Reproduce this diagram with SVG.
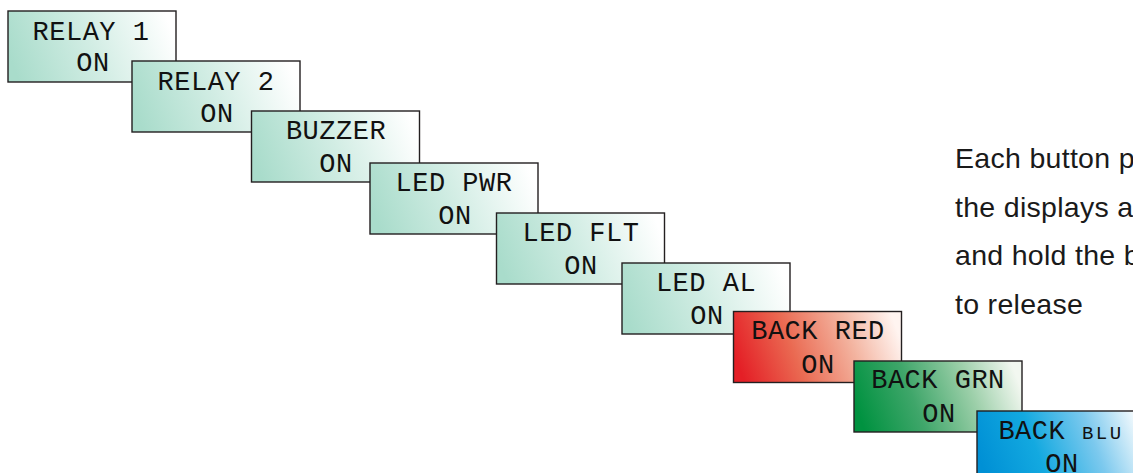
<svg xmlns="http://www.w3.org/2000/svg" width="1133" height="473" viewBox="0 0 1133 473">
<defs>
<linearGradient id="gTeal" x1="0" y1="0.58" x2="1" y2="0.42">
<stop offset="0" stop-color="#a9dccb"/>
<stop offset="0.5" stop-color="#d2ede4"/>
<stop offset="1" stop-color="#ffffff"/>
</linearGradient>
<linearGradient id="gRed" x1="0" y1="0.58" x2="1" y2="0.42">
<stop offset="0" stop-color="#e41f26"/>
<stop offset="0.35" stop-color="#ea6a52"/>
<stop offset="0.7" stop-color="#f3b39f"/>
<stop offset="1" stop-color="#fff4f0"/>
</linearGradient>
<linearGradient id="gGrn" x1="0" y1="0.58" x2="1" y2="0.42">
<stop offset="0" stop-color="#009240"/>
<stop offset="0.35" stop-color="#3fa66a"/>
<stop offset="0.7" stop-color="#9ccfa9"/>
<stop offset="1" stop-color="#f2f7f0"/>
</linearGradient>
<linearGradient id="gBlu" x1="0" y1="0.58" x2="1" y2="0.42">
<stop offset="0" stop-color="#0090d5"/>
<stop offset="0.35" stop-color="#13a9e0"/>
<stop offset="0.7" stop-color="#7cc9ee"/>
<stop offset="1" stop-color="#f4fafd"/>
</linearGradient>
</defs>
<style>
.box{stroke:#231f20;stroke-width:1.4}
.teal{fill:url(#gTeal)}
.red{fill:url(#gRed)}
.grn{fill:url(#gGrn)}
.blu{fill:url(#gBlu)}
.lcd{font-family:"Liberation Mono","DejaVu Sans Mono",monospace;font-size:27px;letter-spacing:0.5px;fill:#111;text-anchor:middle}
.note{font-family:"Liberation Sans",Arial,sans-serif;font-size:28.5px;letter-spacing:0.3px;fill:#1a1a1a}
</style>
<g id="connectors"></g>
<g id="relay1">
<rect class="box teal" x="8" y="11" width="168" height="71"/>
<text class="lcd" x="91" y="40">RELAY 1</text>
<text class="lcd" x="93" y="71">ON</text>
</g>
<g id="relay2">
<rect class="box teal" x="132" y="61" width="168" height="71"/>
<text class="lcd" x="216" y="90">RELAY 2</text>
<text class="lcd" x="217" y="122">ON</text>
</g>
<g id="buzzer">
<rect class="box teal" x="251.5" y="111" width="168" height="71"/>
<text class="lcd" x="336" y="139">BUZZER</text>
<text class="lcd" x="336" y="172">ON</text>
</g>
<g id="ledpwr">
<rect class="box teal" x="370" y="163" width="168" height="71"/>
<text class="lcd" x="454" y="191">LED PWR</text>
<text class="lcd" x="455" y="224">ON</text>
</g>
<g id="ledflt">
<rect class="box teal" x="496.5" y="213" width="168" height="71"/>
<text class="lcd" x="581" y="241">LED FLT</text>
<text class="lcd" x="581" y="274">ON</text>
</g>
<g id="ledal">
<rect class="box teal" x="622" y="263" width="168" height="71"/>
<text class="lcd" x="706" y="291">LED AL</text>
<text class="lcd" x="707" y="324">ON</text>
</g>
<g id="backred">
<rect class="box red" x="733.5" y="311.5" width="168" height="71"/>
<text class="lcd" x="818" y="339">BACK RED</text>
<text class="lcd" x="818" y="373">ON</text>
</g>
<g id="backgrn">
<rect class="box grn" x="854" y="361" width="168" height="71"/>
<text class="lcd" x="938" y="388">BACK GRN</text>
<text class="lcd" x="939" y="422">ON</text>
</g>
<g id="backblu">
<rect class="box blu" x="977" y="411" width="168" height="71"/>
<text class="lcd" x="1061" y="439">BACK <tspan font-size="19" letter-spacing="2.5">BLU</tspan></text>
<text class="lcd" x="1062" y="472">ON</text>
</g>
<g id="note">
<text class="note" x="955" y="168">Each button p</text>
<text class="note" x="955" y="216.5">the displays a</text>
<text class="note" x="955" y="265">and hold the b</text>
<text class="note" x="955" y="313.5">to release</text>
</g>
</svg>
